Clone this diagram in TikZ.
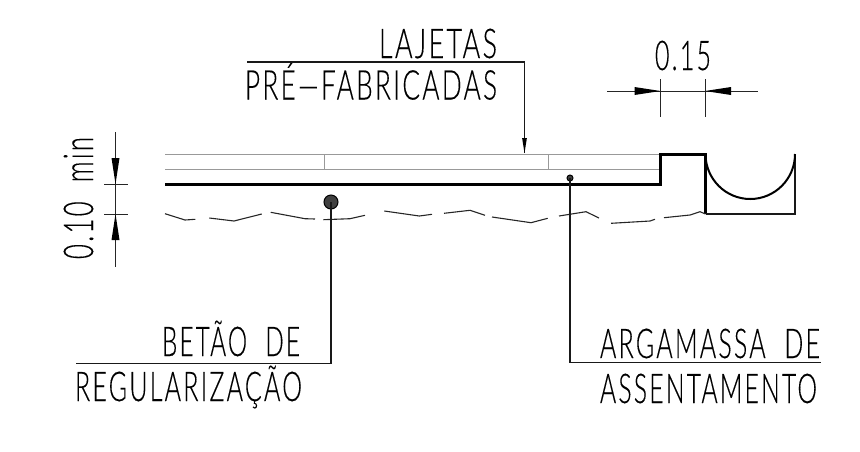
\documentclass[tikz,border=0pt]{standalone}
\usepackage{fontspec}
\usepackage{graphicx}
\usetikzlibrary{arrows.meta}
\setmainfont{Lato Light}[LetterSpace=9,FakeBold=0.3]
\newcommand{\cadtext}[2]{\resizebox{#1pt}{\height}{\fontsize{41}{41}\selectfont #2}}
\tikzset{
  x=1pt,y=-1pt,
  cadlabel/.style={anchor=base west,inner sep=0pt,outer sep=0pt,text=black},
  thinline/.style={line width=0.75pt,draw=black!85},
  grayline/.style={line width=0.9pt,draw=black!40},
  thickline/.style={line width=3pt,draw=black,line join=miter},
  medline/.style={line width=1.6pt,draw=black!90},
  groundline/.style={line width=1.1pt,draw=black!85},
  leaderline/.style={line width=1.2pt,draw=black!90,line join=miter},
  dotmark/.style={circle,fill=black!75,draw=black,line width=1pt,inner sep=0pt},
}
\begin{document}
\begin{tikzpicture}
\useasboundingbox (0,0) rectangle (860,451);
% labels
\node[cadlabel] (lajetas) at (379,58) {\cadtext{118}{LAJETAS}};
\node[cadlabel] (prefab) at (245,99.5) {\cadtext{252}{PRÉ—FABRICADAS}};
\node[cadlabel] (betao) at (162,356) {\cadtext{138}{BETÃO\hspace{16pt} DE}};
\node[cadlabel] (regular) at (75,401) {\cadtext{227}{REGULARIZAÇÃO}};
\node[cadlabel] (argamassa) at (600,358) {\cadtext{220}{ARGAMASSA\hspace{16pt} DE}};
\node[cadlabel] (assent) at (600,403) {\cadtext{217}{ASSENTAMENTO}};
\node[cadlabel] (dimtop) at (655,70) {\cadtext{56}{0.15}};
\node[cadlabel,rotate=90] (dimside) at (93,259) {\cadtext{122}{0.10\hspace{16pt} min}};
% slab
\coordinate (slabTL) at (165,154);
\coordinate (slabTR) at (660,154);
\coordinate (slabML) at (165,169);
\coordinate (slabMR) at (660,169);
\coordinate (slabBL) at (165,184);
\coordinate (slabBR) at (660,184);
\coordinate (jointAt) at (324,154);
\coordinate (jointAb) at (324,169);
\coordinate (jointBt) at (548,154);
\coordinate (jointBb) at (548,169);
\draw[grayline] (slabTL) -- (slabTR);
\draw[grayline] (slabML) -- (slabMR);
\draw[grayline] (jointAt) -- (jointAb);
\draw[grayline] (jointBt) -- (jointBb);
% kerb and channel
\coordinate (kerbTL) at (660.5,154);
\coordinate (kerbTR) at (705.5,154);
\coordinate (kerbBR) at (705.5,214);
\coordinate (chanBR) at (795,214);
\coordinate (chanTR) at (795,154);
\draw[thickline] (slabBL) -- (kerbTL |- slabBL) -- (kerbTL) -- (kerbTR) -- (kerbBR);
\draw[medline] (kerbBR) -- (chanBR) -- (chanTR);
\draw[line width=2pt,draw=black] (kerbTR) arc[start angle=180,end angle=360,x radius=44.75pt,y radius=45pt];
% ground line
\draw[groundline] (165,213.7) -- (185,220) -- (195.3,219.3);
\draw[groundline] (209.3,218) -- (234,221) -- (261.7,214);
\draw[groundline] (270.7,212.3) -- (305,218.7) -- (315,219);
\draw[groundline] (323.3,219.7) -- (350,218.7) -- (365,215.3);
\draw[groundline] (384.3,211) -- (419.3,216) -- (432,214.3);
\draw[groundline] (444,213.3) -- (470,210.3) -- (485,215.3);
\draw[groundline] (492,217) -- (531,222.7) -- (547.7,218.3);
\draw[groundline] (559,216) -- (586,211.7) -- (599,218);
\draw[groundline] (611,223.3) -- (650,221) -- (655,219.3);
\draw[groundline] (664,217.7) -- (690,215) -- (700,211.7) -- (705.5,214);
% dots and leaders
\node[dotmark,minimum size=14pt] (dotbig) at (331,202) {};
\node[dotmark,minimum size=6pt] (dotsmall) at (570,178) {};
\coordinate (legA) at (331,363.5);
\coordinate (endA) at (76,363.5);
\coordinate (legB) at (570,362.5);
\coordinate (endB) at (821,362.5);
\draw[leaderline] (dotbig.center) -- (legA) -- (endA);
\draw[leaderline] (dotsmall.center) -- (legB) -- (endB);
% Lajetas leader
\coordinate (lajL) at (247,62);
\coordinate (lajC) at (524.5,62);
\coordinate (lajTip) at (524.5,153);
\draw[leaderline] (lajL) -- (lajC) -- (lajTip);
\fill[black] (lajTip) -- ++(-2.4,-15) -- ++(4.8,0) -- cycle;
% dimension 0.15
\coordinate (tickAt) at (660.5,79);
\coordinate (tickAb) at (660.5,117);
\coordinate (tickBt) at (705,79);
\coordinate (tickBb) at (705,117);
\coordinate (dimHa) at (607,91);
\coordinate (dimHb) at (758,91);
\draw[thinline] (tickAt) -- (tickAb);
\draw[thinline] (tickBt) -- (tickBb);
\draw[thinline] (dimHa) -- (dimHb);
\fill[black] (tickAt |- dimHa) -- ++(-26,-4) -- ++(0,8) -- cycle;
\fill[black] (tickBt |- dimHa) -- ++(26,-4) -- ++(0,8) -- cycle;
% dimension 0.10
\coordinate (tickCl) at (104,184);
\coordinate (tickCr) at (128,184);
\coordinate (tickDl) at (104,214);
\coordinate (tickDr) at (128,214);
\coordinate (dimVa) at (115.5,132);
\coordinate (dimVb) at (115.5,267);
\draw[thinline] (tickCl) -- (tickCr);
\draw[thinline] (tickDl) -- (tickDr);
\draw[thinline] (dimVa) -- (dimVb);
\fill[black] (dimVa |- tickCl) -- ++(-4,-26) -- ++(8,0) -- cycle;
\fill[black] (dimVa |- tickDl) -- ++(-4,26) -- ++(8,0) -- cycle;
\end{tikzpicture}
\end{document}
